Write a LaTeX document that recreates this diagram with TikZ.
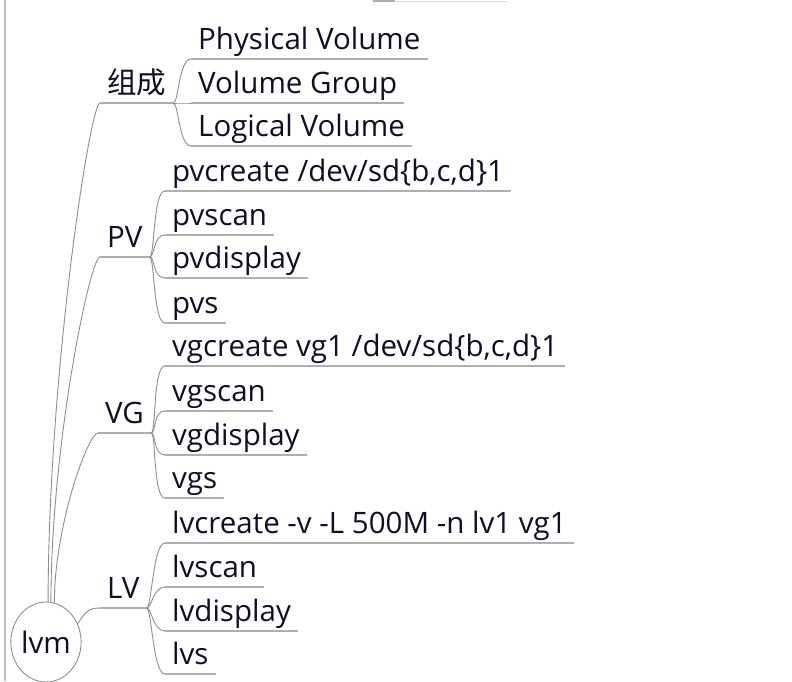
\documentclass[tikz,border=0pt]{standalone}
\usepackage{fontspec}
\setmainfont{Open Sans}
\newfontfamily\cjk{Noto Sans CJK SC}
\usetikzlibrary{calc,shapes.geometric}
\definecolor{ink}{HTML}{0E0E24}
\definecolor{wire}{HTML}{8E8E8E}
\definecolor{rule}{HTML}{AFAFAF}
\tikzset{
  item/.style={anchor=south west, inner xsep=7pt, inner ysep=3pt, text height=21pt, text depth=6pt, text=ink, font=\fontsize{29.5}{32}\selectfont},
  uline/.style={draw=rule, line width=1.6pt},
  link/.style={draw=wire, line width=0.9pt},
  brace/.style={to path={.. controls ($(\tikztostart)+(5,0)$) and ($(\tikztotarget)+(-12,0)$) .. (\tikztotarget)}},
  stem/.style={to path={.. controls ($(\tikztostart)!0.45!(\tikztostart|-\tikztotarget)$) and ($(\tikztotarget)+(-10,0)$) .. (\tikztotarget)}}
}
\begin{document}
\begin{tikzpicture}[x=1pt,y=-1pt]
\useasboundingbox (0,0) rectangle (792,681);
\draw[rule!80, line width=1.6pt] (5,0) -- (5,681);
\draw[rule, line width=1.5pt] (373,1) -- (395,1);
\draw[rule!40, line width=1pt] (395,1) -- (508,1);
% root
\node[draw=wire, line width=0.9pt, ellipse, minimum width=66pt, minimum height=80pt, inner sep=0pt, text=ink, font=\fontsize{29.5}{32}\selectfont] (root) at (46,642) {lvm};
% main branches
\node[item] (zc) at (100,103) {\cjk 组成};
\node[item] (pv) at (100,257) {PV};
\node[item] (vg) at (98,433) {VG};
\node[item] (lv) at (100,608) {LV};
\foreach \m in {zc,pv,vg,lv}
  \draw[uline] (\m.south west) -- (\m.south east);
\draw[link] (root.87) to[stem] (zc.south west);
\draw[link] (root.83) to[stem] (pv.south west);
\draw[link] (root.78) to[stem] (vg.south west);
\draw[link] (root.30) .. controls ($(root.30)+(8,-12)$) and ($(lv.south west)+(-12,0)$) .. (lv.south west);
% leaves
\foreach \nm/\y/\txt in {zca/59/Physical Volume, zcb/103/Volume Group, zcc/146/Logical Volume}{
  \node[item] (\nm) at (191,\y) {\txt};
  \draw[uline] (\nm.south west) -- (\nm.south east);
  \draw[link] (zc.south east) to[brace] (\nm.south west);
}
\foreach \nm/\y/\txt in {pva/191/{pvcreate /dev/sd\{b,c,d\}1}, pvb/235/pvscan, pvc/278/pvdisplay, pvd/323/pvs}{
  \node[item] (\nm) at (165,\y) {\txt};
  \draw[uline] (\nm.south west) -- (\nm.south east);
  \draw[link] (pv.south east) to[brace] (\nm.south west);
}
\foreach \nm/\y/\txt in {vga/366/{vgcreate vg1 /dev/sd\{b,c,d\}1}, vgb/411/vgscan, vgc/455/vgdisplay, vgd/498/vgs}{
  \node[item] (\nm) at (165,\y) {\txt};
  \draw[uline] (\nm.south west) -- (\nm.south east);
  \draw[link] (vg.south east) to[brace] (\nm.south west);
}
\foreach \nm/\y/\txt in {lva/543/{lvcreate -v -L 500M -n lv1 vg1}, lvb/587/lvscan, lvc/631/lvdisplay, lvd/674/lvs}{
  \node[item] (\nm) at (165,\y) {\txt};
  \draw[uline] (\nm.south west) -- (\nm.south east);
  \draw[link] (lv.south east) to[brace] (\nm.south west);
}
\end{tikzpicture}
\end{document}
